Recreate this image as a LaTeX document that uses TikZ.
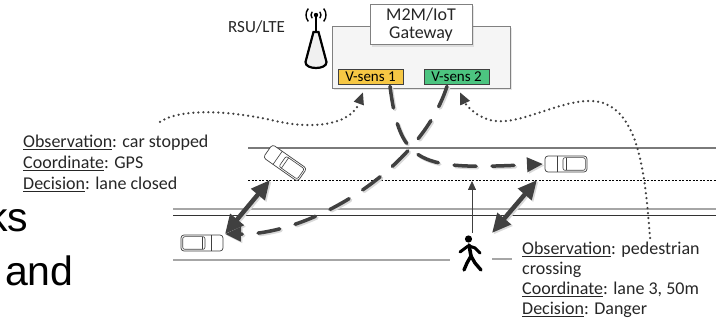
\documentclass[tikz,border=0pt]{standalone}
\usepackage{fontspec}
\setmainfont{Carlito}
\newfontfamily\slidefont{Liberation Sans}
\usetikzlibrary{arrows.meta,shadows}

\definecolor{darkline}{HTML}{404040}
\definecolor{roadgray}{HTML}{7A7A7A}
\definecolor{sensyellow}{HTML}{F6C744}
\definecolor{sensgreen}{HTML}{4CC480}

\tikzset{
    car/.pic={
        \draw[darkline, line width=0.7pt, fill=white, rounded corners=3pt] (-21,-8) rectangle (21,8);
        \draw[darkline, line width=0.6pt] (-9,-8) -- (-9,8);
        \draw[darkline, line width=0.6pt, rounded corners=2pt] (-3,-6.3) rectangle (19.3,6.3);
        \draw[darkline, line width=0.6pt] (0,-6.3) -- (0,6.3);
    }
}
\tikzset{
    walker/.pic={
        \fill (-1.5,-15) circle (3.6);
        \draw[line width=3.6pt, line cap=round, line join=round] (-1,-9) -- (1,2);
        \draw[line width=3pt, line cap=round, line join=round] (-2,-8) -- (-10,-2);
        \draw[line width=3pt, line cap=round, line join=round] (-1,-8) -- (5,-6) -- (10,-1);
        \draw[line width=3.4pt, line cap=round, line join=round] (1,2) -- (-3,9) -- (-6,16);
        \draw[line width=3.4pt, line cap=round, line join=round] (1,2) -- (5,9) -- (11,16);
    }
}
\tikzset{
    antenna/.pic={
        \fill (0,0) circle (2.2);
        \draw[line width=1.4pt] (140:5) arc (140:220:5);
        \draw[line width=1.4pt] (-40:5) arc (-40:40:5);
        \draw[line width=1.4pt] (140:10) arc (140:220:10);
        \draw[line width=1.4pt] (-40:10) arc (-40:40:10);
        \draw[line width=2.2pt] (0,0) -- (0,17);
        \draw[line width=2.2pt, fill=gray!12] (-2.5,17) -- (2.5,17) -- (10.5,47)
            .. controls (11,55) and (-11,55) .. (-10.5,47) -- cycle;
    }
}

\begin{document}
\begin{tikzpicture}[x=1pt, y=-1pt,
    note/.style={anchor=base west, inner sep=0pt, text=black!85, font=\fontsize{18}{21}\selectfont},
    sens/.style={draw=darkline, line width=0.6pt, minimum width=65pt, minimum height=15pt, inner sep=0pt, font=\fontsize{15}{16}\selectfont},
    link/.style={darkline, line width=4.5pt, {Triangle[length=19pt,width=17pt]}-{Triangle[length=19pt,width=17pt]},
        preaction={draw=black!15, line width=4.5pt, transform canvas={shift={(1.5pt,-1.5pt)}}}},
    flow/.style={darkline, line width=3.5pt, line cap=round, dash pattern=on 22pt off 16pt, -{Triangle[length=16pt,width=14pt]},
        preaction={draw=black!15, line width=3.5pt, line cap=round, dash pattern=on 22pt off 16pt, transform canvas={shift={(1.5pt,-1.5pt)}}}},
    report/.style={darkline, line width=2.5pt, line cap=round, dash pattern=on 0pt off 5pt, -{Triangle[length=12pt,width=10pt]}}
]
        \useasboundingbox (0,0) rectangle (716,323);

        % slide text behind the figure
        \node[anchor=base east, inner sep=0pt, font=\slidefont\fontsize{41}{45}\selectfont] (ks) at (28.5,232) {ks};
        \node[anchor=base west, inner sep=0pt, font=\slidefont\fontsize{41}{45}\selectfont] (and) at (5,286) {and};

        % road
        \draw[roadgray, line width=1.5pt] (248,148) -- (716,148);
        \draw[black, line width=0.6pt, dash pattern=on 2pt off 1.5pt] (248,180) -- (716,180);
        \draw[gray!70, line width=1.8pt] (173,209) -- (716,209);
        \draw[black!80, line width=0.9pt] (173,215.5) -- (716,215.5);
        \draw[gray!70, line width=1.8pt] (173,260) -- (450,260);
        \draw[gray!70, line width=1.8pt] (492,259) -- (512,259);

        % gateway
        \node (rsu) [anchor=base west, inner sep=0pt, text=black!85, font=\fontsize{17}{20}\selectfont] at (228,33) {RSU/LTE};
        \pic at(316,15) {antenna};
        \node (gwbox) [draw=gray, fill=gray!8, minimum width=178pt, minimum height=62pt,
            drop shadow={opacity=0.2, shadow xshift=2pt, shadow yshift=-2pt}] at (421,57) {};
        \node (m2m) [draw=gray, fill=white, line width=0.8pt, minimum width=102pt, minimum height=39pt, align=center,
            text=black!85, font=\fontsize{18}{18.5}\selectfont,
            drop shadow={opacity=0.2, shadow xshift=2pt, shadow yshift=-2pt}] at (421,24.5) {M2M/IoT\\Gateway};
        \node (vs1) [sens, fill=sensyellow] at (370.5,76.5) {V-sens 1};
        \node (vs2) [sens, fill=sensgreen] at (456.5,76.5) {V-sens 2};

        % vehicles and pedestrian
        \coordinate (car1) at (285,163);
        \coordinate (car2) at (202,243);
        \coordinate (car3) at (566,164);
        \coordinate (ped) at (470,254);
        \pic[rotate=-35] at(car1) {car};
        \pic[rotate=180] at(car2) {car};
        \pic at(car3) {car};
        \pic at(ped) {walker};

        \coordinate (lane1) at (270,180);
        \coordinate (lane2) at (537,180);
        \coordinate (lane3) at (472,181);
        \coordinate (nose2) at (225,234);
        \coordinate (tail3) at (543,164);
        \coordinate (near) at (492,233);
        \coordinate (head) at (472,233);
        \coordinate (note1) at (160,122);
        \coordinate (note2) at (650,238);

        % links between vehicles
        \draw[link] (lane1) -- (nose2);
        \draw[link] (lane2) -- (near);
        \draw[darkline, line width=0.8pt, -{Triangle[length=9pt,width=8pt]}] (head) -- (lane3);

        % sensor messages
        \draw[flow] ([xshift=19.5pt,yshift=-2pt]vs1.south) .. controls (400,165) and (420,170) .. (tail3);
        \draw[flow] ([xshift=-9.5pt,yshift=-2pt]vs2.south) .. controls (420,170) and (310,235) .. (nose2);

        % reports
        \draw[report] (note1) .. controls (180,108) and (230,110) .. (280,122)
            .. controls (320,130) and (352,122) .. ([xshift=-7.5pt,yshift=-8pt]vs1.south);
        \draw[report] (note2) .. controls (645,170) and (638,112) .. (600,102)
            .. controls (565,95) and (520,128) .. (490,120)
            .. controls (475,116) and (466,105) .. ([xshift=3.5pt,yshift=-8pt]vs2.south);

        \node (obs1) [note] at (23,148) {\underline{Observation}: car stopped};
        \node (crd1) [note] at (23,169) {\underline{Coordinate}: GPS};
        \node (dec1) [note] at (23,190) {\underline{Decision}: lane closed};
        \node (obs2) [note] at (522,255) {\underline{Observation}: pedestrian};
        \node (obs2b) [note] at (522,275) {crossing};
        \node (crd2) [note] at (522,295) {\underline{Coordinate}: lane 3, 50m};
        \node (dec2) [note] at (522,315) {\underline{Decision}: Danger};
\end{tikzpicture}
\end{document}
